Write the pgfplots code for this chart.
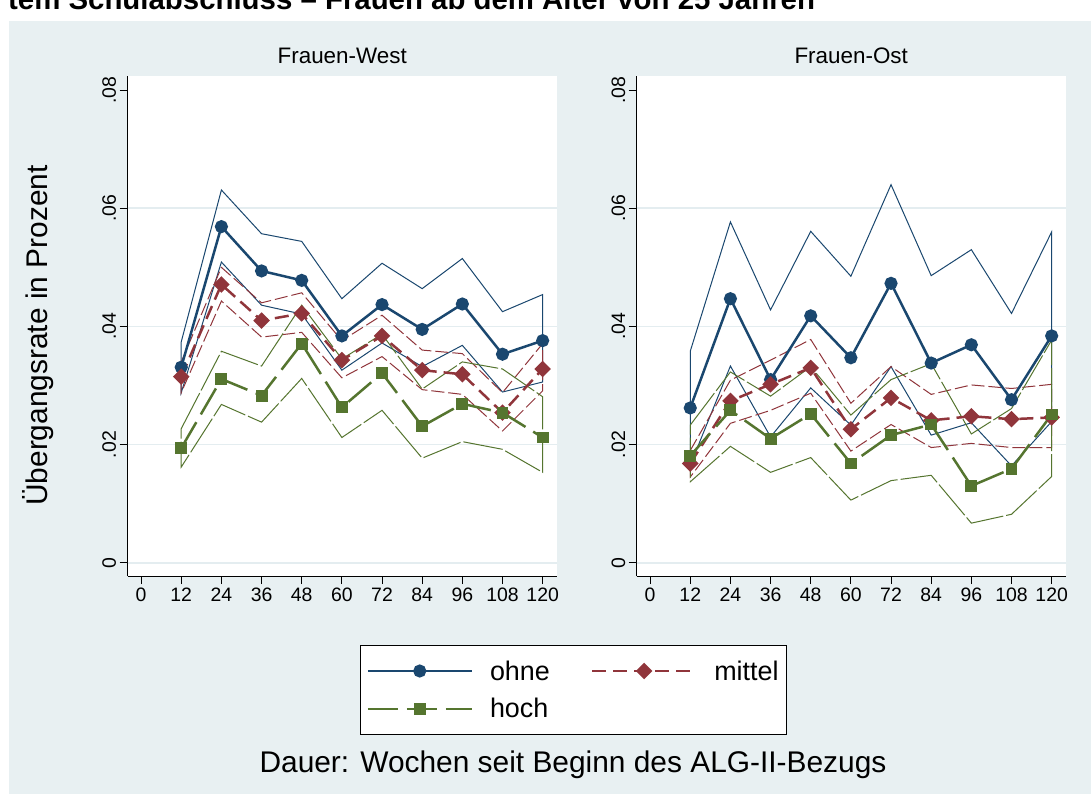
\documentclass[border=0pt]{standalone}
\usepackage{pgfplots}
\pgfplotsset{compat=1.18}
\usepackage{fontspec}
\setmainfont{Liberation Sans}
\definecolor{bgc}{RGB}{232,240,242}
\definecolor{gridc}{RGB}{228,237,240}
\definecolor{cnavy}{RGB}{26,71,111}
\definecolor{cmaroon}{RGB}{144,53,59}
\definecolor{cgreen}{RGB}{85,117,47}
\newcommand\tickfont{\fontsize{19.5}{22}\selectfont}
\newcommand\legfont{\fontsize{27}{31}\selectfont}
\newcommand\labfont{\fontsize{30}{34}\selectfont}
\newcommand\ptitlefont{\fontsize{22.5}{26}\selectfont}
\pgfplotsset{
 panel/.style={
  scale only axis, width=429bp, height=500bp,
  xmin=-4, xmax=124.2, ymin=-0.00225, ymax=0.0824,
  axis x line*=bottom, axis y line*=left,
  axis line style={black, line width=1bp},
  xtick={0,12,24,36,48,60,72,84,96,108,120},
  xticklabels={0,12,24,36,48,60,72,84,96,108,120},
  ytick={0,0.02,0.04,0.06,0.08}, yticklabels={0,.02,.04,.06,.08},
  scaled y ticks=false, scaled x ticks=false,
  tick align=outside, major tick length=8bp,
  tick style={black, line width=1bp},
  yticklabel style={rotate=90, anchor=south, font=\tickfont},
  xticklabel style={anchor=north, font=\tickfont},
  extra y ticks={0,0.02,0.04,0.06}, extra y tick labels={},
  extra y tick style={grid=major, tick style={draw=none}},
  grid style={color=gridc, line width=1.8bp},
  axis background/.style={fill=white},
  title style={at={(0.5,1)}, anchor=base, yshift=7bp, font=\ptitlefont},
  legend image code/.code={\draw[mark repeat=2,mark phase=2,#1,line width=2.5bp] plot coordinates {(0bp,0bp) (52bp,0bp) (104bp,0bp)};},
 },
 ohneM/.style={cnavy, line width=2.5bp, mark=*, mark size=5.3bp, mark options={solid}},
 mittelM/.style={cmaroon, line width=2.5bp, dash pattern=on 14bp off 7bp, mark=square*, mark size=4.6bp, mark options={solid, rotate=45}},
 hochM/.style={cgreen, line width=2.5bp, dash pattern=on 30bp off 9bp, mark=square*, mark size=4.7bp, mark options={solid}},
 ohneC/.style={cnavy, line width=1bp, no marks, forget plot},
 mittelC/.style={cmaroon, line width=1bp, dash pattern=on 13bp off 4bp, no marks, forget plot},
 hochC/.style={cgreen, line width=1bp, dash pattern=on 40bp off 3bp, no marks, forget plot},
}
\begin{document}
\begin{tikzpicture}[x=1bp,y=1bp]
\useasboundingbox (0,0) rectangle (1091,-794);
\fill[white] (0,0) rectangle (1091,-794);
\fill[bgc] (9,-21) rectangle (1091,-794);
\begin{scope}
\clip (0,0) rectangle (1091,-794);
\node[anchor=base west, inner sep=0pt, font=\bfseries\fontsize{29.5}{33}\selectfont] at (8,-10) {tem Schulabschluss – Frauen ab dem Alter von 25 Jahren};
\end{scope}

% ---------------- Frauen-West ----------------
\begin{axis}[panel, at={(127.7bp,-576bp)}, anchor=south west, title={Frauen-West},
  legend columns=2, legend cell align=left,
  legend style={at={(0.5415,-0.138)}, anchor=north west, draw=black, line width=1bp, fill=white,
    font=\legfont, inner xsep=6bp, inner ysep=13bp, row sep=13bp,
    /tikz/every odd column/.append style={column sep=15bp},
    /tikz/every even column/.append style={column sep=39bp}}]
% confidence bands (upper 12..120, lower 120..12)
\addplot[ohneC] coordinates {(12,.0374) (24,.0631) (36,.0557) (48,.0544) (60,.0447) (72,.0507) (84,.0464) (96,.0515) (108,.0425) (120,.0454)
 (120,.0306) (108,.0289) (96,.0368) (84,.0332) (72,.0372) (60,.0326) (48,.0421) (36,.0436) (24,.0509) (12,.0288) (12,.0374)};
\addplot[mittelC] coordinates {(12,.0340) (24,.0500) (36,.0440) (48,.0457) (60,.0376) (72,.0419) (84,.0360) (96,.0354) (108,.0288) (120,.0371)
 (120,.0291) (108,.0223) (96,.0285) (84,.0293) (72,.0349) (60,.0313) (48,.0390) (36,.0382) (24,.0443) (12,.0288) (12,.0340)};
\addplot[hochC] coordinates {(12,.0227) (24,.0358) (36,.0333) (48,.0436) (60,.0345) (72,.0387) (84,.0294) (96,.0340) (108,.0328) (120,.0281)
 (120,.0153) (108,.0192) (96,.0205) (84,.0177) (72,.0258) (60,.0212) (48,.0312) (36,.0238) (24,.0268) (12,.0162) (12,.0227)};
% point estimates
\addplot[ohneM] coordinates {(12,.0331) (24,.0569) (36,.0494) (48,.0478) (60,.0384) (72,.0437) (84,.0395) (96,.0438) (108,.0353) (120,.0376)};
\addlegendentry{ohne}
\addplot[mittelM] coordinates {(12,.0315) (24,.0471) (36,.0410) (48,.0422) (60,.0343) (72,.0384) (84,.0326) (96,.0319) (108,.0254) (120,.0328)};
\addlegendentry{mittel}
\addplot[hochM] coordinates {(12,.0194) (24,.0311) (36,.0283) (48,.0371) (60,.0263) (72,.0321) (84,.0231) (96,.0269) (108,.0254) (120,.0212)};
\addlegendentry{hoch}
\end{axis}

% ---------------- Frauen-Ost ----------------
\begin{axis}[panel, at={(636.7bp,-576bp)}, anchor=south west, title={Frauen-Ost}]
\addplot[ohneC] coordinates {(12,.0358) (24,.0577) (36,.0428) (48,.0561) (60,.0485) (72,.0640) (84,.0486) (96,.0530) (108,.0422) (120,.0560)
 (120,.0239) (108,.0164) (96,.0237) (84,.0216) (72,.0332) (60,.0233) (48,.0296) (36,.0213) (24,.0333) (12,.0165) (12,.0358)};
\addplot[mittelC] coordinates {(12,.0190) (24,.0309) (36,.0343) (48,.0378) (60,.0270) (72,.0332) (84,.0285) (96,.0301) (108,.0295) (120,.0302)
 (120,.0195) (108,.0195) (96,.0202) (84,.0195) (72,.0234) (60,.0189) (48,.0287) (36,.0258) (24,.0236) (12,.0145) (12,.0190)};
\addplot[hochC] coordinates {(12,.0233) (24,.0323) (36,.0282) (48,.0332) (60,.0250) (72,.0310) (84,.0337) (96,.0218) (108,.0261) (120,.0377)
 (120,.0146) (108,.0082) (96,.0067) (84,.0148) (72,.0139) (60,.0106) (48,.0178) (36,.0153) (24,.0197) (12,.0137) (12,.0233)};
\addplot[ohneM] coordinates {(12,.0262) (24,.0447) (36,.0310) (48,.0418) (60,.0347) (72,.0473) (84,.0338) (96,.0369) (108,.0276) (120,.0384)};
\addplot[mittelM] coordinates {(12,.0168) (24,.0274) (36,.0302) (48,.0330) (60,.0226) (72,.0279) (84,.0241) (96,.0248) (108,.0243) (120,.0246)};
\addplot[hochM] coordinates {(12,.0181) (24,.0258) (36,.0210) (48,.0252) (60,.0168) (72,.0216) (84,.0234) (96,.0130) (108,.0159) (120,.0251)};
\end{axis}

\node[rotate=90, anchor=base, inner sep=0pt, font=\labfont] at (47,-335.5) {Übergangsrate in Prozent};
\node[anchor=base, inner sep=0pt, font=\labfont] at (573,-772) {Dauer: Wochen seit Beginn des ALG-II-Bezugs};
\end{tikzpicture}
\end{document}
